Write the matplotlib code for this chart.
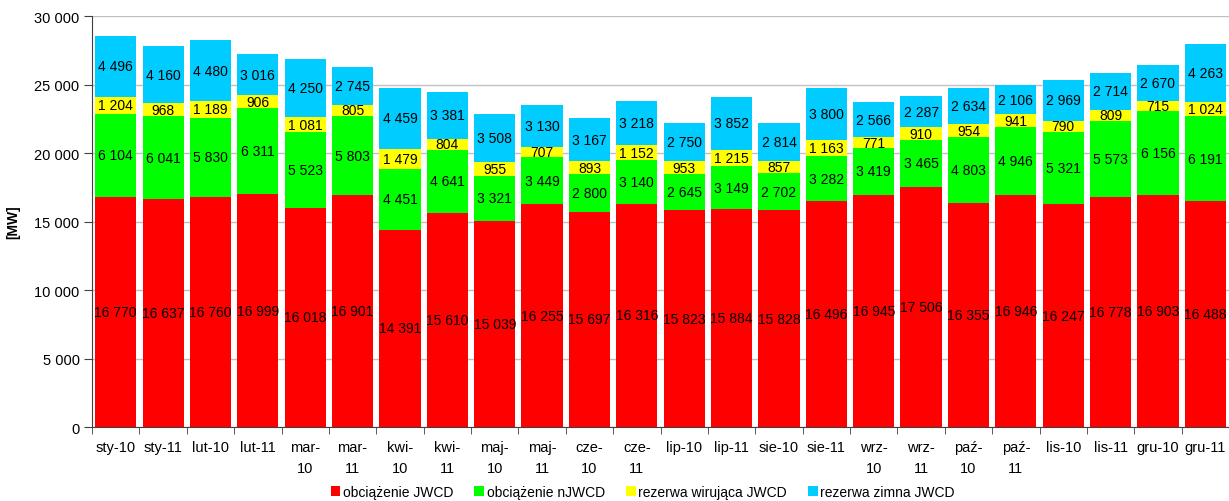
import numpy as np
import matplotlib
matplotlib.use('Agg')
import matplotlib.pyplot as plt
from matplotlib.ticker import FuncFormatter, FixedLocator

plt.rcParams['font.family'] = ['Liberation Sans', 'DejaVu Sans']

months = ['sty-10', 'sty-11', 'lut-10', 'lut-11', 'mar-\n10', 'mar-\n11',
          'kwi-\n10', 'kwi-\n11', 'maj-\n10', 'maj-\n11', 'cze-\n10', 'cze-\n11',
          'lip-10', 'lip-11', 'sie-10', 'sie-11', 'wrz-\n10', 'wrz-\n11',
          'paź-\n10', 'paź-\n11', 'lis-10', 'lis-11', 'gru-10', 'gru-11']

obc_jwcd = [16770, 16637, 16760, 16999, 16018, 16901, 14391, 15610, 15039, 16255, 15697, 16316,
            15823, 15884, 15828, 16496, 16945, 17506, 16355, 16946, 16247, 16778, 16903, 16488]
obc_njwcd = [6104, 6041, 5830, 6311, 5523, 5803, 4451, 4641, 3321, 3449, 2800, 3140,
             2645, 3149, 2702, 3282, 3419, 3465, 4803, 4946, 5321, 5573, 6156, 6191]
rez_wir = [1204, 968, 1189, 906, 1081, 805, 1479, 804, 955, 707, 893, 1152,
           953, 1215, 857, 1163, 771, 910, 954, 941, 790, 809, 715, 1024]
rez_zim = [4496, 4160, 4480, 3016, 4250, 2745, 4459, 3381, 3508, 3130, 3167, 3218,
           2750, 3852, 2814, 3800, 2566, 2287, 2634, 2106, 2969, 2714, 2670, 4263]

series = [
    ('obciążenie JWCD', obc_jwcd, '#FF0000'),
    ('obciążenie nJWCD', obc_njwcd, '#00FF00'),
    ('rezerwa wirująca JWCD', rez_wir, '#FFFF00'),
    ('rezerwa zimna JWCD', rez_zim, '#00CCFF'),
]


def fmt(v):
    return f'{int(v):,}'.replace(',', ' ')


fig = plt.figure(figsize=(12.29, 5.02), dpi=100)
ax = fig.add_axes([0.0749, 0.1474, 0.9251, 0.8186])

x = np.arange(len(months))
bottom = np.zeros(len(months))
for name, vals, color in series:
    vals = np.array(vals, dtype=float)
    ax.bar(x, vals, 0.87, bottom=bottom, color=color, label=name, zorder=2)
    for xi, b, v in zip(x, bottom, vals):
        ax.text(xi, b + v / 2, fmt(v), ha='center', va='center', fontsize=10, zorder=3)
    bottom += vals

ax.set_xlim(-0.5, len(months) - 0.5)
ax.set_ylim(0, 30000)
ax.set_yticks(np.arange(0, 30001, 5000))
ax.yaxis.set_major_formatter(FuncFormatter(lambda v, p: fmt(v)))
ax.grid(axis='y', color='#C0C0C0', linewidth=1, zorder=0)
ax.set_axisbelow(True)

# category labels centred, tick marks between categories
ax.set_xticks(x)
ax.set_xticklabels(months, linespacing=1.65, va='top')
ax.tick_params(axis='x', length=0, pad=9, labelsize=10.5)
ax.xaxis.set_minor_locator(FixedLocator(np.arange(-0.5, len(months), 1)))
ax.tick_params(axis='x', which='minor', length=5, color='#404040')
ax.tick_params(axis='y', length=6, labelsize=10.5, color='#404040', pad=3)

for s in ['top', 'right']:
    ax.spines[s].set_visible(False)
ax.spines['left'].set_color('#404040')
ax.spines['bottom'].set_color('#404040')

ax.set_ylabel('[MW]', fontsize=10, fontweight='bold', labelpad=10)

fig.legend(loc='center', bbox_to_anchor=(0.523, 0.018), ncol=4, frameon=False,
           fontsize=10, handlelength=0.7, handleheight=0.7, handletextpad=0.2,
           columnspacing=1.5, borderaxespad=0)

fig.savefig('out.png', dpi=100)
